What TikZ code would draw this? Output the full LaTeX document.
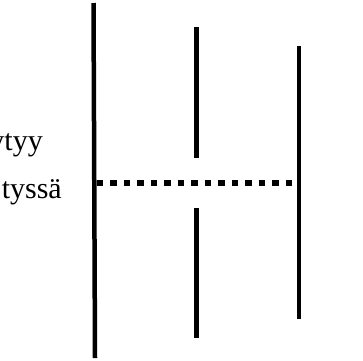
\documentclass[tikz,border=0pt]{standalone}
\usepackage{fontspec}
\setmainfont{Liberation Serif}
\begin{document}
\begin{tikzpicture}[x=1pt,y=-1pt,
  bar/.style={line width=4.5pt},
  dots/.style={line width=5.5pt, dash pattern=on 6.5pt off 7pt},
  lbl/.style={font=\fontsize{30}{30}\selectfont, inner sep=0pt, anchor=base east}]
\useasboundingbox (0,0) rectangle (363,360);
\clip (0,0) rectangle (363,360);
% left labels, running off the left edge
\node[lbl] (l1) at (43,150) {ytyy};
\node[lbl] (l2) at (62,198) {tyssä};
% long left bar
\coordinate (a1) at (93.5,3);
\coordinate (a2) at (95,358);
\draw[bar] (a1) -- (a2);
% middle bar, broken in two
\coordinate (b1) at (196.5,27);
\coordinate (b2) at (196.5,158);
\coordinate (b3) at (196.5,208);
\coordinate (b4) at (196.5,338);
\draw[bar] (b1) -- (b2);
\draw[bar] (b3) -- (b4);
% right bar
\coordinate (c1) at (299,46);
\coordinate (c2) at (299,319);
\draw[bar] (c1) -- (c2);
% dotted link between the outer bars
\coordinate (d1) at (96.5,183);
\coordinate (d2) at (293,183);
\draw[dots] (d1) -- (d2);
\end{tikzpicture}
\end{document}
